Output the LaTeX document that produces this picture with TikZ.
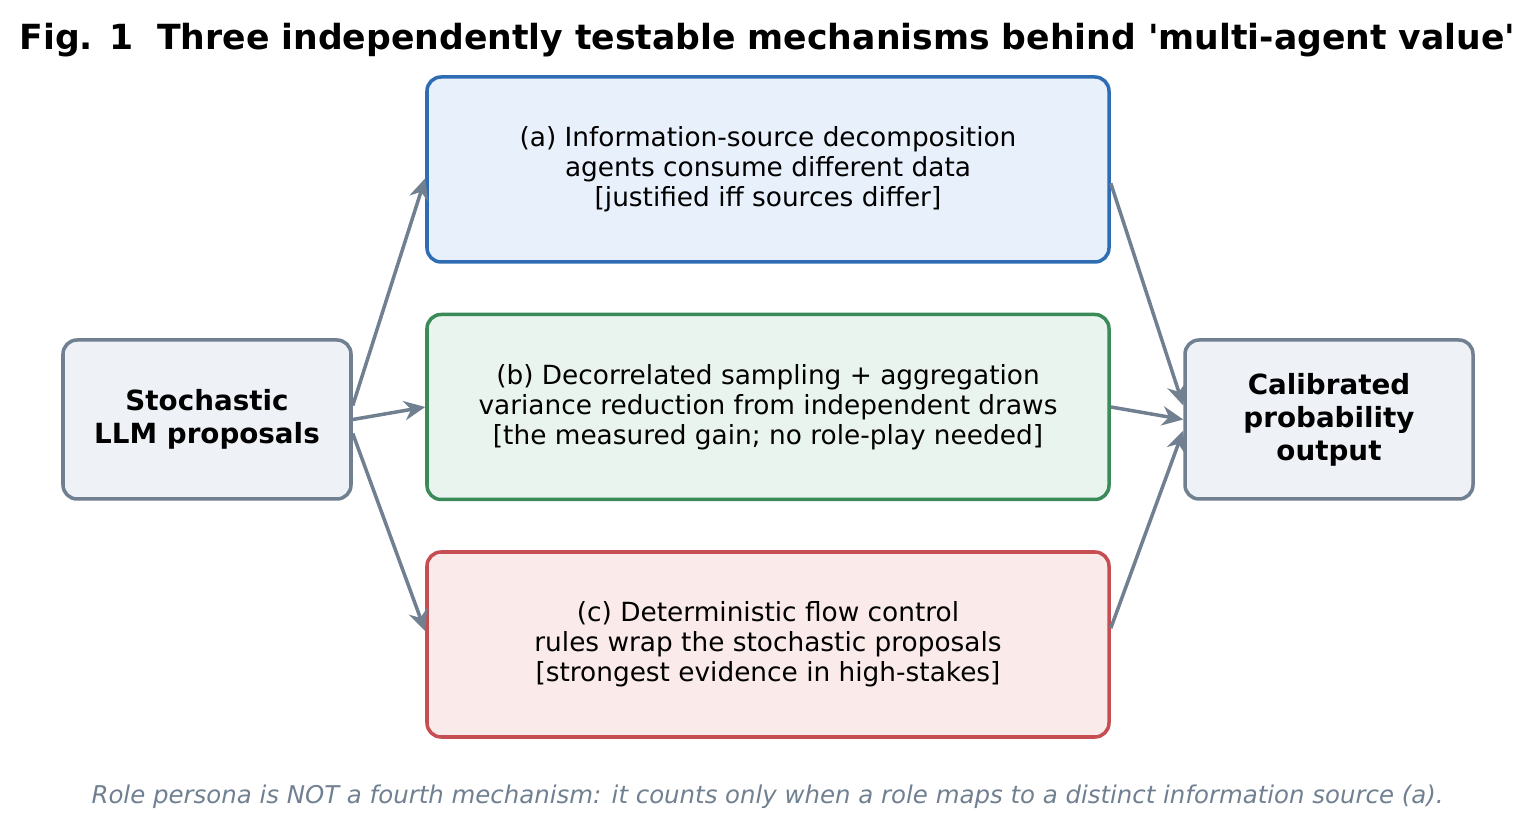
\documentclass[tikz,border=0pt]{standalone}
\usepackage{fontspec}
\setmainfont{DejaVu Sans}
\usetikzlibrary{arrows.meta}
\definecolor{slate}{HTML}{708090}
\definecolor{blueline}{HTML}{2E6DB4}
\definecolor{bluefill}{HTML}{E8F0FB}
\definecolor{greenline}{HTML}{3A8A5A}
\definecolor{greenfill}{HTML}{EAF4EE}
\definecolor{redline}{HTML}{C44E52}
\definecolor{redfill}{HTML}{FAEAEA}
\definecolor{grayfill}{HTML}{EEF2F7}
\tikzset{
  box/.style={draw, rounded corners=8pt, line width=2pt, align=center, font=\fontsize{15}{17}\selectfont},
  side/.style={box, draw=slate, fill=grayfill, minimum width=5.76cm, minimum height=3.18cm, font=\fontsize{15.8}{18.7}\selectfont\bfseries},
  mech/.style={box, minimum width=13.64cm, minimum height=3.7cm},
  link/.style={-{Stealth[length=12pt,width=11pt]}, draw=slate, line width=2pt}
}
\begin{document}
\begin{tikzpicture}
\useasboundingbox (0,0) rectangle (30.7,16.8);
\node[font=\fontsize{19.7}{23}\selectfont\bfseries] (title) at (15.35,16.0) {Fig. 1\ \ Three independently testable mechanisms behind \textquotesingle multi-agent value\textquotesingle};

\node[side] (llm) at (4.14,8.41) {Stochastic\\LLM proposals};
\node[side] (out) at (26.58,8.41) {Calibrated\\probability\\output};

\node[mech, draw=blueline, fill=bluefill] (a) at (15.36,13.41) {(a) Information-source decomposition\\agents consume different data\\{[}justified iff sources differ{]}};
\node[mech, draw=greenline, fill=greenfill] (b) at (15.36,8.66) {(b) Decorrelated sampling + aggregation\\variance reduction from independent draws\\{[}the measured gain; no role-play needed{]}};
\node[mech, draw=redline, fill=redfill] (c) at (15.36,3.91) {(c) Deterministic flow control\\rules wrap the stochastic proposals\\{[}strongest evidence in high-stakes{]}};

\draw[link] ([yshift=0.28cm]llm.east) -- ([yshift=-2.06cm]a.north west);
\draw[link] (llm.east) -- (b.west);
\draw[link] ([yshift=-0.28cm]llm.east) -- ([yshift=-1.62cm]c.north west);
\draw[link] ([yshift=-2.16cm]a.north east) -- ([yshift=0.28cm]out.west);
\draw[link] (b.east) -- (out.west);
\draw[link] ([yshift=-1.56cm]c.north east) -- ([yshift=-0.22cm]out.west);

\node[font=\fontsize{13.9}{16}\selectfont\itshape, text=slate] (note) at (15.35,0.86) {Role persona is NOT a fourth mechanism: it counts only when a role maps to a distinct information source (a).};
\end{tikzpicture}
\end{document}
